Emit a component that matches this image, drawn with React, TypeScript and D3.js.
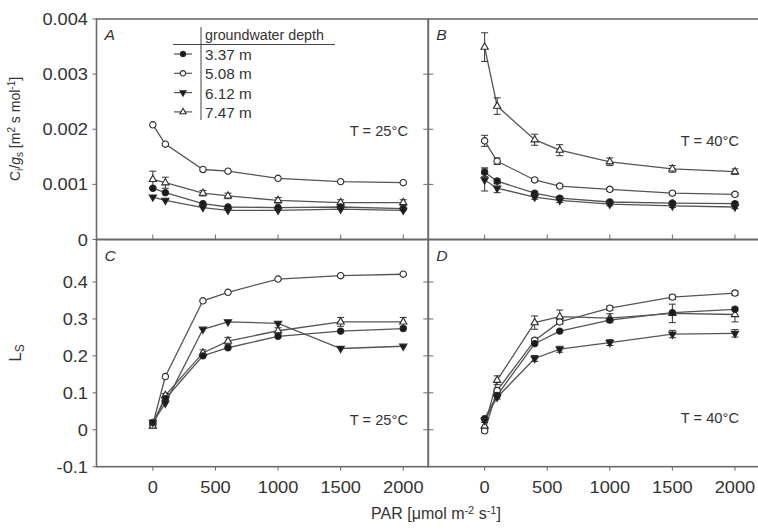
import React from "react";
import * as d3 from "d3";

const PAR = [0, 100, 400, 600, 1000, 1500, 2000];
const SERIES = ["3.37 m", "5.08 m", "6.12 m", "7.47 m"];

// Panel A: Ci/gs at 25 °C
const A_337 = [0.00093, 0.00085, 0.00065, 0.00059, 0.00058, 0.00059, 0.00056];
const A_508 = [0.00208, 0.00173, 0.00127, 0.00124, 0.00111, 0.00105, 0.00103];
const A_612 = [0.00077, 0.00071, 0.00058, 0.00053, 0.00053, 0.00055, 0.00053];
const A_747 = [0.00109, 0.00103, 0.00084, 0.00079, 0.00071, 0.00067, 0.00067];
const A_ERR_747 = [0.00015, 0.0001, 0.00005, 0.00005, 0.00005, 0.00005, 0.00005];

// Panel B: Ci/gs at 40 °C
const B_337 = [0.00122, 0.00106, 0.00084, 0.00075, 0.00068, 0.00066, 0.00065];
const B_508 = [0.00179, 0.00142, 0.00108, 0.00097, 0.00091, 0.00084, 0.00082];
const B_612 = [0.00108, 0.00093, 0.00077, 0.00071, 0.00064, 0.00061, 0.00059];
const B_747 = [0.00349, 0.00242, 0.00181, 0.00162, 0.00141, 0.00128, 0.00123];
const B_ERR_337 = [0.00008, 0.00004, 0.00003, 0.00003, 0.00003, 0.00003, 0.00003];
const B_ERR_508 = [0.0001, 0.00006, 0.00003, 0.00003, 0.00003, 0.00003, 0.00003];
const B_ERR_612 = [0.0002, 0.00008, 0.00004, 0.00004, 0.00003, 0.00003, 0.00003];
const B_ERR_747 = [0.00026, 0.00015, 0.0001, 0.0001, 0.00007, 0.00006, 0.00005];

// Panel C: Ls at 25 °C
const C_337 = [0.02, 0.084, 0.2, 0.222, 0.253, 0.267, 0.274];
const C_508 = [0.015, 0.144, 0.349, 0.372, 0.408, 0.417, 0.421];
const C_612 = [0.02, 0.072, 0.272, 0.292, 0.288, 0.22, 0.226];
const C_747 = [0.01, 0.093, 0.208, 0.24, 0.268, 0.292, 0.292];
const C_ERR_747 = [0.005, 0.005, 0.008, 0.01, 0.008, 0.012, 0.012];

// Panel D: Ls at 40 °C
const D_337 = [0.03, 0.093, 0.233, 0.267, 0.297, 0.317, 0.326];
const D_508 = [-0.003, 0.106, 0.242, 0.292, 0.329, 0.359, 0.37];
const D_612 = [0.025, 0.088, 0.193, 0.218, 0.236, 0.259, 0.261];
const D_747 = [0.01, 0.134, 0.29, 0.306, 0.302, 0.315, 0.312];
const D_ERR_747 = [0.01, 0.012, 0.018, 0.018, 0.012, 0.025, 0.02];
const D_ERR_612 = [0.005, 0.005, 0.008, 0.008, 0.008, 0.01, 0.01];
const D_ERR_508 = [0.005, 0.005, 0.006, 0.006, 0.006, 0.006, 0.006];

const X_TICKS = [0, 500, 1000, 1500, 2000];
const TOP_TICKS = [0, 0.001, 0.002, 0.003, 0.004];
const TOP_TICK_LABELS = ["0", "0.001", "0.002", "0.003", "0.004"];
const BOT_TICKS = [-0.1, 0, 0.1, 0.2, 0.3, 0.4];
const BOT_TICK_LABELS = ["-0.1", "0", "0.1", "0.2", "0.3", "0.4"];

const FONT = "'Liberation Sans', Arial, sans-serif";
const TXT = "#333";
const LINE = "#555";
const FRAME = "#6a6a6a";

type Kind = "fc" | "oc" | "ft" | "ot";
const KINDS: Kind[] = ["fc", "oc", "ft", "ot"];

function Marker({ x, y, kind, s = 1 }: { x: number; y: number; kind: Kind; s?: number }) {
  const filled = kind === "fc" || kind === "ft";
  const tri = kind === "ft" || kind === "ot";
  const path = d3.symbol().type(tri ? d3.symbolTriangle : d3.symbolCircle).size((tri ? 23 : 32) * s * s)();
  return (
    <path
      d={path || ""}
      transform={`translate(${x},${y})${kind === "ft" ? " rotate(180)" : ""}`}
      fill={filled ? "#1a1a1a" : "#fff"}
      stroke="#2a2a2a"
      strokeWidth={1.1}
    />
  );
}

function SText({ x, y, anchor = "start", size = 16, children, italic = false, sx = 1.14 }: any) {
  return (
    <text
      transform={`translate(${x},${y}) scale(${sx},1)`}
      textAnchor={anchor}
      fontFamily={FONT}
      fontSize={size}
      fill={TXT}
      fontStyle={italic ? "italic" : "normal"}
    >
      {children}
    </text>
  );
}

type Series = { vals: number[]; err?: number[]; kind: Kind };

function Panel({
  x0,
  x1,
  y0,
  y1,
  yDomain,
  series,
  letter,
  temp,
  tempPos,
  leftPanel,
  topPanel,
  yTicks,
}: any) {
  const xs = d3.scaleLinear().domain([-450, 2200]).range([x0, x1]);
  const ys = d3.scaleLinear().domain(yDomain).range([y1, y0]);
  const line = d3
    .line<number>()
    .x((_, i) => xs(PAR[i]))
    .y((v) => ys(v));
  return (
    <g>
      {(series as Series[]).map((s, si) => (
        <g key={si}>
          <path d={line(s.vals) || ""} fill="none" stroke={LINE} strokeWidth={1.3} />
          {s.err &&
            s.vals.map((v, i) => {
              const e = s.err![i];
              const cx = xs(PAR[i]);
              return (
                <g key={i} stroke="#333" strokeWidth={1}>
                  <line x1={cx} x2={cx} y1={ys(v - e)} y2={ys(v + e)} />
                  <line x1={cx - 3.5} x2={cx + 3.5} y1={ys(v + e)} y2={ys(v + e)} />
                  <line x1={cx - 3.5} x2={cx + 3.5} y1={ys(v - e)} y2={ys(v - e)} />
                </g>
              );
            })}
        </g>
      ))}
      {(series as Series[]).map((s, si) =>
        s.vals.map((v, i) => <Marker key={`${si}-${i}`} x={xs(PAR[i])} y={ys(v)} kind={s.kind} />)
      )}
      {(yTicks as number[]).map((t, i) => {
        const yy = ys(t);
        if (yy <= y0 + 1 || yy >= y1 - 1) return null;
        return leftPanel ? (
          <line key={i} x1={x1} x2={x1 - 5} y1={yy} y2={yy} stroke={FRAME} strokeWidth={1} />
        ) : (
          <line key={i} x1={x0} x2={x0 + 5} y1={yy} y2={yy} stroke={FRAME} strokeWidth={1} />
        );
      })}
      {topPanel &&
        X_TICKS.map((t, i) => (
          <line key={i} x1={xs(t)} x2={xs(t)} y1={y1} y2={y1 - 5} stroke={FRAME} strokeWidth={1} />
        ))}
      {!topPanel &&
        X_TICKS.map((t, i) => (
          <line key={i} x1={xs(t)} x2={xs(t)} y1={y1} y2={y1 + 4} stroke={FRAME} strokeWidth={1} />
        ))}
      <rect x={x0} y={y0} width={x1 - x0} height={y1 - y0} fill="none" stroke={FRAME} strokeWidth={1.6} />
      <SText x={x0 + 8} y={y0 + 21} size={15} italic sx={1.05}>
        {letter}
      </SText>
      <SText x={tempPos[0]} y={tempPos[1]} anchor="end" size={14} sx={1.05}>
        {`T = ${temp}°C`}
      </SText>
      {!topPanel &&
        X_TICKS.map((t, i) => (
          <SText key={i} x={xs(t)} y={493} anchor="middle" size={16}>
            {String(t)}
          </SText>
        ))}
    </g>
  );
}

export default function App() {
  const XL0 = 96.5,
    XL1 = 428.3,
    XR0 = 428.3,
    XR1 = 760;
  const YT0 = 19,
    YT1 = 239.5,
    YB0 = 239.5,
    YB1 = 466.7;
  const yTop = d3.scaleLinear().domain([0, 0.004]).range([YT1, YT0]);
  const yBot = d3.scaleLinear().domain([-0.1, 0.515]).range([YB1, YB0]);

  const legendRows = SERIES.map((s, i) => ({ s, kind: KINDS[i] }));

  return (
    <svg
      width={758}
      height={529}
      style={{ position: "absolute", left: 0, top: 0, background: "#fff" }}
      viewBox="0 0 758 529"
    >
      <rect x={0} y={0} width={758} height={529} fill="#fff" />
      <Panel
        x0={XL0}
        x1={XL1}
        y0={YT0}
        y1={YT1}
        yDomain={[0, 0.004]}
        letter="A"
        temp="25"
        tempPos={[408, 136]}
        leftPanel
        topPanel
        yTicks={TOP_TICKS}
        series={[
          { vals: A_508, kind: "oc" },
          { vals: A_747, err: A_ERR_747, kind: "ot" },
          { vals: A_337, kind: "fc" },
          { vals: A_612, kind: "ft" },
        ]}
      />
      <Panel
        x0={XR0}
        x1={XR1}
        y0={YT0}
        y1={YT1}
        yDomain={[0, 0.004]}
        letter="B"
        temp="40"
        tempPos={[739, 146]}
        topPanel
        yTicks={TOP_TICKS}
        series={[
          { vals: B_747, err: B_ERR_747, kind: "ot" },
          { vals: B_508, err: B_ERR_508, kind: "oc" },
          { vals: B_337, err: B_ERR_337, kind: "fc" },
          { vals: B_612, err: B_ERR_612, kind: "ft" },
        ]}
      />
      <Panel
        x0={XL0}
        x1={XL1}
        y0={YB0}
        y1={YB1}
        yDomain={[-0.1, 0.515]}
        letter="C"
        temp="25"
        tempPos={[408, 425]}
        leftPanel
        yTicks={BOT_TICKS}
        series={[
          { vals: C_508, kind: "oc" },
          { vals: C_747, err: C_ERR_747, kind: "ot" },
          { vals: C_337, kind: "fc" },
          { vals: C_612, kind: "ft" },
        ]}
      />
      <Panel
        x0={XR0}
        x1={XR1}
        y0={YB0}
        y1={YB1}
        yDomain={[-0.1, 0.515]}
        letter="D"
        temp="40"
        tempPos={[739, 423]}
        yTicks={BOT_TICKS}
        series={[
          { vals: D_508, err: D_ERR_508, kind: "oc" },
          { vals: D_747, err: D_ERR_747, kind: "ot" },
          { vals: D_337, kind: "fc" },
          { vals: D_612, err: D_ERR_612, kind: "ft" },
        ]}
      />

      {TOP_TICKS.map((t, i) => (
        <g key={"tt" + i}>
          <line x1={XL0 - 4} x2={XL0} y1={yTop(t)} y2={yTop(t)} stroke={FRAME} />
          <SText x={88} y={yTop(t) + 6} anchor="end" size={16}>
            {TOP_TICK_LABELS[i]}
          </SText>
        </g>
      ))}
      {BOT_TICKS.map((t, i) => (
        <g key={"bt" + i}>
          <line x1={XL0 - 4} x2={XL0} y1={yBot(t)} y2={yBot(t)} stroke={FRAME} />
          <SText x={88} y={yBot(t) + 6} anchor="end" size={16}>
            {BOT_TICK_LABELS[i]}
          </SText>
        </g>
      ))}

      <g>
        <line x1={201} x2={201} y1={27} y2={120} stroke="#444" strokeWidth={1} />
        <line x1={173} x2={335} y1={44.5} y2={44.5} stroke="#444" strokeWidth={1.2} />
        <SText x={205} y={40} size={14} sx={1.02}>
          groundwater depth
        </SText>
        {legendRows.map((r, i) => {
          const yy = 54 + i * 19.3;
          return (
            <g key={i}>
              <line x1={174} x2={192} y1={yy} y2={yy} stroke={LINE} strokeWidth={1.2} />
              <Marker x={183} y={yy} kind={r.kind} s={0.85} />
              <SText x={205} y={yy + 6} size={15} sx={1.02}>
                {r.s}
              </SText>
            </g>
          );
        })}
      </g>

      <text
        transform="translate(20,129) rotate(-90)"
        textAnchor="middle"
        fontFamily={FONT}
        fontSize={14}
        fill={TXT}
      >
        C<tspan fontSize={10} dy={3}>i</tspan>
        <tspan dy={-3}>/</tspan>
        <tspan fontStyle="italic">g</tspan>
        <tspan fontSize={10} dy={3}>s</tspan>
        <tspan dy={-3}> [m</tspan>
        <tspan fontSize={10} dy={-5}>2</tspan>
        <tspan dy={5}> s mol</tspan>
        <tspan fontSize={10} dy={-5}>-1</tspan>
        <tspan dy={5}>]</tspan>
      </text>
      <text transform="translate(21,353) rotate(-90)" textAnchor="middle" fontFamily={FONT} fontSize={17} fill={TXT}>
        L<tspan fontSize={12} dy={3}>S</tspan>
      </text>
      <text x={436} y={519} textAnchor="middle" fontFamily={FONT} fontSize={16} fill={TXT}>
        PAR [μmol m<tspan fontSize={11} dy={-5}>-2</tspan>
        <tspan dy={5}> s</tspan>
        <tspan fontSize={11} dy={-5}>-1</tspan>
        <tspan dy={5}>]</tspan>
      </text>
    </svg>
  );
}
